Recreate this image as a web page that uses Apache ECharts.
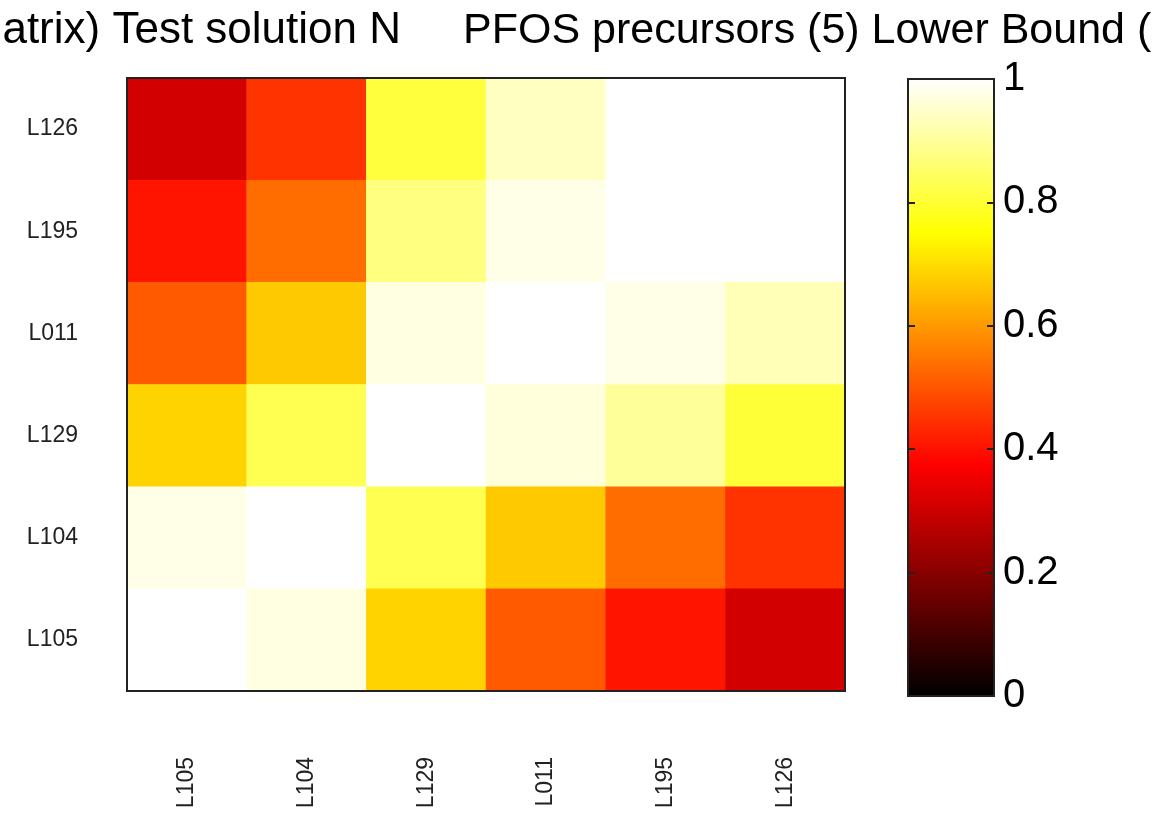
<!DOCTYPE html>
<html>
<head>
<meta charset="utf-8">
<script src="https://cdn.jsdelivr.net/npm/echarts@6/dist/echarts.min.js"></script>
<style>
html,body{margin:0;padding:0;background:#fff;}
#chart{width:1154px;height:818px;}
</style>
</head>
<body>
<div id="chart"></div>
<script>
// Columns (left to right) and rows (top to bottom)
var colLabels = ['L105', 'L104', 'L129', 'L011', 'L195', 'L126'];
var rowLabels = ['L126', 'L195', 'L011', 'L129', 'L104', 'L105'];

// Values per row (left to right)
var rowL126 = [0.31, 0.45, 0.81, 0.94, 1.00, 1.00];
var rowL195 = [0.405, 0.536, 0.875, 0.977, 1.00, 1.00];
var rowL011 = [0.507, 0.67, 0.97, 1.00, 0.977, 0.93];
var rowL129 = [0.685, 0.83, 1.00, 0.965, 0.90, 0.805];
var rowL104 = [0.977, 1.00, 0.83, 0.67, 0.536, 0.45];
var rowL105 = [1.00, 0.97, 0.685, 0.507, 0.405, 0.31];

var colorbarTicks = [0, 0.2, 0.4, 0.6, 0.8, 1];

var titleLeft = 'matrix) Test solution N';
var titleRight = 'PFOS precursors (5) Lower Bound (';

// "hot" colormap stops at 0, 1/8, ..., 1
var hotColors = ['#000000', '#550000', '#aa0000', '#ff0000', '#ff5500', '#ffaa00', '#ffff00', '#ffff80', '#ffffff'];

var rows = [rowL126, rowL195, rowL011, rowL129, rowL104, rowL105];
var data = [];
rows.forEach(function (r, yi) {
  r.forEach(function (v, xi) { data.push([xi, yi, v]); });
});

var FONT = 'Liberation Sans, Arial, sans-serif';
var chart = echarts.init(document.getElementById('chart'));
chart.setOption({
  animation: false,
  backgroundColor: '#ffffff',
  graphic: [
    { type: 'text', x: 401, y: 31, style: { text: titleLeft, font: '44px ' + FONT, fill: '#000', textAlign: 'right', textVerticalAlign: 'middle' } },
    { type: 'text', x: 463, y: 31, style: { text: titleRight, font: '43px ' + FONT, fill: '#000', textAlign: 'left', textVerticalAlign: 'middle' } }
  ],
  grid: [
    { left: 127, top: 78, width: 718, height: 613, show: true, z: 10, backgroundColor: 'transparent', borderColor: '#222', borderWidth: 2 },
    { left: 908, top: 79, width: 86, height: 617, show: true, z: 10, backgroundColor: 'transparent', borderColor: '#222', borderWidth: 2 }
  ],
  xAxis: [
    { type: 'category', gridIndex: 0, data: colLabels, position: 'bottom',
      axisLine: { show: false }, axisTick: { show: false }, splitLine: { show: false },
      axisLabel: { rotate: 90, margin: 66, fontSize: 23, color: '#222', fontFamily: FONT } },
    { type: 'value', gridIndex: 1, show: false, min: 0, max: 1 }
  ],
  yAxis: [
    { type: 'category', gridIndex: 0, data: rowLabels, inverse: true,
      axisLine: { show: false }, axisTick: { show: false }, splitLine: { show: false },
      axisLabel: { margin: 49, fontSize: 23, color: '#222', fontFamily: FONT } },
    { type: 'value', gridIndex: 1, position: 'right', min: 0, max: 1, interval: 0.2, z: 12,
      axisLine: { show: false, onZero: false }, splitLine: { show: false },
      axisTick: { show: true, inside: true, length: 7, lineStyle: { color: '#222', width: 2 } },
      axisLabel: { margin: 9, fontSize: 40, color: '#000', fontFamily: FONT,
        formatter: function (v) { return String(Math.round(v * 10) / 10); } } },
    { type: 'value', gridIndex: 1, position: 'left', min: 0, max: 1, interval: 0.2, z: 12,
      axisLine: { show: false, onZero: false }, splitLine: { show: false },
      axisTick: { show: true, inside: true, length: 7, lineStyle: { color: '#222', width: 2 } },
      axisLabel: { show: false } }
  ],
  visualMap: {
    type: 'continuous', min: 0, max: 1, seriesIndex: 0, calculable: false,
    orient: 'vertical', left: 908, top: 79, itemWidth: 86, itemHeight: 617, padding: 0,
    hoverLink: false, z: 2,
    inRange: { color: hotColors }
  },
  series: [
    { type: 'heatmap', xAxisIndex: 0, yAxisIndex: 0, data: data, itemStyle: { borderWidth: 0 }, emphasis: { disabled: true } }
  ]
});
</script>
</body>
</html>
